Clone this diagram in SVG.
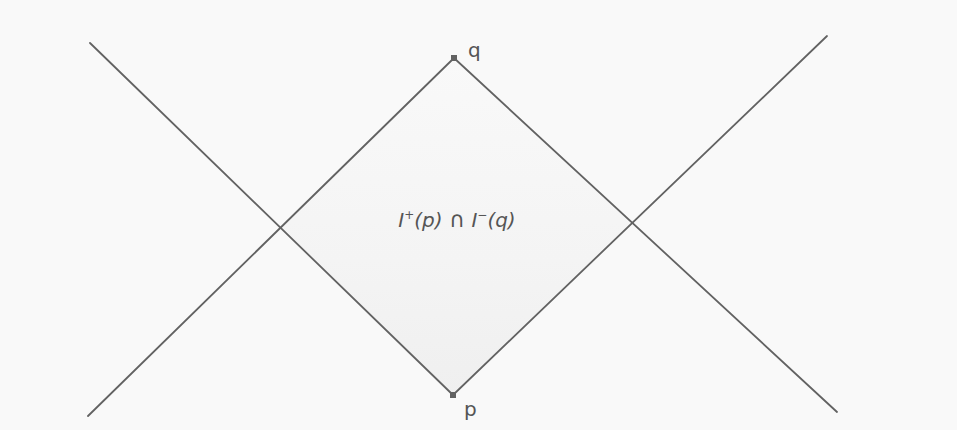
<svg xmlns="http://www.w3.org/2000/svg" width="957" height="430" viewBox="0 0 957 430">
<style>
.ln{stroke:#626262;stroke-width:1.8;fill:none;stroke-linecap:round}
.pt{fill:#626262}
.lbl{font-family:"DejaVu Sans","Liberation Sans",sans-serif;fill:#555;}
</style>
<defs>
<linearGradient id="shade" x1="0" y1="0" x2="0" y2="1">
<stop offset="0" stop-color="#f9f9f9"/>
<stop offset="0.6" stop-color="#f4f4f4"/>
<stop offset="1" stop-color="#efefef"/>
</linearGradient>
</defs>
<rect width="957" height="430" fill="#f9f9f9"/>
<polygon points="454,58 632,223 453,395 282,228" fill="url(#shade)"/>
<g id="connectors">
<line class="ln" x1="90" y1="43" x2="453" y2="395"/>
<line class="ln" x1="88" y1="416" x2="454" y2="58"/>
<line class="ln" x1="827" y1="36" x2="453" y2="395"/>
<line class="ln" x1="837" y1="412" x2="454" y2="58"/>
</g>
<g id="q">
<rect class="pt" x="451" y="55" width="6" height="6"/>
<text class="lbl" x="468" y="57" font-size="20">q</text>
</g>
<g id="p">
<rect class="pt" x="450" y="392" width="6" height="6"/>
<text class="lbl" x="464" y="416" font-size="20">p</text>
</g>
<g id="region">
<text class="lbl" x="457" y="227" font-size="20" font-style="italic" text-anchor="middle">I<tspan font-size="12" dy="-8" font-style="normal">+</tspan><tspan dy="8">(p) </tspan><tspan font-style="normal" font-size="22">∩</tspan> I<tspan font-size="12" dy="-8" font-style="normal">−</tspan><tspan dy="8">(q)</tspan></text>
</g>
</svg>
